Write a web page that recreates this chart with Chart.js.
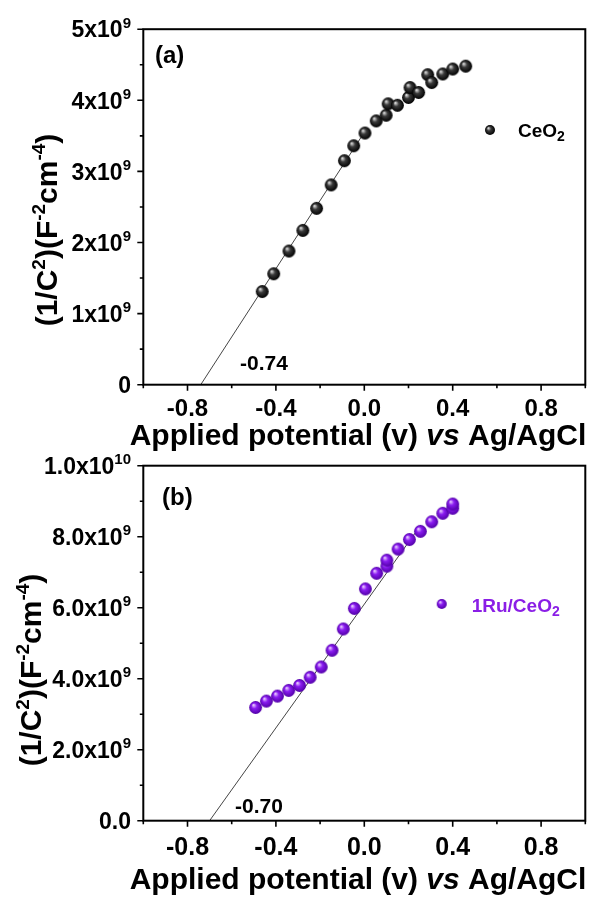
<!DOCTYPE html>
<html><head><meta charset="utf-8">
<script src="https://cdn.jsdelivr.net/npm/chart.js@4.4.1/dist/chart.umd.min.js"></script>
<style>
html,body{margin:0;padding:0;background:#fff;}
#wrap{position:relative;width:598px;height:899px;overflow:hidden;}
.c{position:absolute;left:0;width:598px;}
</style></head><body>
<div id="wrap">
<div class="c" style="top:0;height:468px"><canvas id="ca"></canvas></div>
<div class="c" style="top:440px;height:459px"><canvas id="cb"></canvas></div>
</div>
<script>
// ---- data ----
const ceo2X = [-0.462,-0.410,-0.341,-0.278,-0.216,-0.150,-0.090,-0.048,0.003,0.054,0.099,0.108,0.150,0.200,0.207,0.246,0.287,0.305,0.355,0.400,0.459];
const ceo2Y = [1.31e9,1.56e9,1.88e9,2.17e9,2.48e9,2.81e9,3.15e9,3.36e9,3.54e9,3.71e9,3.79e9,3.95e9,3.93e9,4.04e9,4.18e9,4.11e9,4.36e9,4.25e9,4.37e9,4.44e9,4.48e9];
const ruX = [-0.492,-0.443,-0.393,-0.342,-0.293,-0.245,-0.195,-0.146,-0.095,-0.045,0.005,0.056,0.102,0.102,0.153,0.204,0.254,0.305,0.355,0.400,0.400];
const ruY = [3.19e9,3.37e9,3.51e9,3.67e9,3.81e9,4.04e9,4.33e9,4.80e9,5.40e9,5.98e9,6.53e9,6.97e9,7.17e9,7.34e9,7.65e9,7.92e9,8.15e9,8.42e9,8.66e9,8.80e9,8.92e9];
const fitAX = [-0.74, 0.0];
const fitAY = [0, 3.55e9];
const fitBX = [-0.70, 0.24];
const fitBY = [0, 8.19e9];
const xTicks = [-0.8,-0.4,0.0,0.4,0.8];
const xTickLabels = ["-0.8","-0.4","0.0","0.4","0.8"];
const xMinorTicks = [-1.0,-0.6,-0.2,0.2,0.6,1.0];
const aYTicks = [0,1e9,2e9,3e9,4e9,5e9];
const aYTickLabels = ["0","1x10^9","2x10^9","3x10^9","4x10^9","5x10^9"];
const aYMinor = [0.5e9,1.5e9,2.5e9,3.5e9,4.5e9];
const bYTicks = [0,2e9,4e9,6e9,8e9,1e10];
const bYTickLabels = ["0.0","2.0x10^9","4.0x10^9","6.0x10^9","8.0x10^9","1.0x10^10"];
const bYMinor = [1e9,3e9,5e9,7e9,9e9];
const xTitleParts = [["Applied potential (v) ",false],["vs",true],[" Ag/AgCl",false]];
const yTitleParts = [["(1/C",0],["2",1],[")(F",0],["-2",1],["cm",0],["-4",1],[")",0]];
const legendA = [["CeO",0],["2",-1]];
const legendB = [["1Ru/CeO",0],["2",-1]];

const FONT = '"Liberation Sans", Arial, sans-serif';

function sphere(r, light, mid, dark){
  const s = Math.ceil(2*r+2);
  const c = document.createElement('canvas'); c.width = s; c.height = s;
  const g = c.getContext('2d'); const cx = s/2, cy = s/2;
  const grad = g.createRadialGradient(cx-r*0.35, cy-r*0.4, r*0.05, cx, cy, r);
  grad.addColorStop(0, light); grad.addColorStop(0.4, mid); grad.addColorStop(1, dark);
  g.fillStyle = grad; g.beginPath(); g.arc(cx, cy, r, 0, Math.PI*2); g.fill();
  return c;
}
const blackBall = sphere(6.4, '#e0e0e0', '#3a3a3a', '#000000');
const purpleBall = sphere(6.4, '#eccfff', '#8a1cf0', '#5200a8');
const blackBallS = sphere(5, '#e0e0e0', '#3a3a3a', '#000000');
const purpleBallS = sphere(5, '#eccfff', '#8a1cf0', '#5200a8');

function drawParts(ctx, parts, x, y, size, supSize, raise, color){
  let cx = x;
  for (const [t, kind] of parts){
    ctx.fillStyle = color;
    if (kind === 1){ ctx.font = 'bold '+supSize+'px '+FONT; ctx.fillText(t, cx, y-raise); }
    else if (kind === -1){ ctx.font = 'bold '+supSize+'px '+FONT; ctx.fillText(t, cx, y+raise); }
    else { ctx.font = 'bold '+size+'px '+FONT; ctx.fillText(t, cx, y); }
    cx += ctx.measureText(t).width;
  }
  return cx - x;
}
function measureParts(ctx, parts, size, supSize){
  let w = 0;
  for (const [t, kind] of parts){
    ctx.font = 'bold '+(kind? supSize: size)+'px '+FONT;
    w += ctx.measureText(t).width;
  }
  return w;
}

function makeDecor(cfg){
  return {
    id: 'decor',
    afterDraw(chart){
      const ctx = chart.ctx, a = chart.chartArea, xs = chart.scales.x, ys = chart.scales.y;
      ctx.save();
      ctx.strokeStyle = '#000'; ctx.lineWidth = 2;
      ctx.strokeRect(a.left, a.top, a.right-a.left, a.bottom-a.top);
      ctx.lineWidth = 1.6;
      ctx.beginPath();
      for (const v of xTicks){ const p = xs.getPixelForValue(v); ctx.moveTo(p, a.bottom); ctx.lineTo(p, a.bottom+6); }
      for (const v of xMinorTicks){ const p = xs.getPixelForValue(v); ctx.moveTo(p, a.bottom); ctx.lineTo(p, a.bottom+3.5); }
      for (const v of cfg.yTicks){ const p = ys.getPixelForValue(v); ctx.moveTo(a.left, p); ctx.lineTo(a.left-6, p); }
      for (const v of cfg.yMinor){ const p = ys.getPixelForValue(v); ctx.moveTo(a.left, p); ctx.lineTo(a.left-3.5, p); }
      ctx.stroke();
      ctx.fillStyle = '#000';
      ctx.textBaseline = 'alphabetic'; ctx.textAlign = 'center';
      ctx.font = 'bold '+cfg.xTickSize+'px '+FONT;
      xTicks.forEach((v,i)=>{ ctx.fillText(xTickLabels[i], xs.getPixelForValue(v), a.bottom + cfg.xTickOff); });
      ctx.textAlign = 'left';
      cfg.yTickLabels.forEach((lab,i)=>{
        const [base, sup] = lab.split('^');
        const parts = sup ? [[base,0],[sup,1]] : [[base,0]];
        const w = measureParts(ctx, parts, cfg.yTickSize, cfg.ySupSize);
        const py = ys.getPixelForValue(cfg.yTicks[i]);
        drawParts(ctx, parts, cfg.yTickRight - w, py + cfg.yTickSize*0.36, cfg.yTickSize, cfg.ySupSize, 9.5, '#000');
      });
      let tw = 0;
      for (const [t,it] of xTitleParts){ ctx.font = (it?'italic ':'')+'bold '+cfg.titleSize+'px '+FONT; tw += ctx.measureText(t).width; }
      let tx = cfg.xTitleCenter - tw/2;
      for (const [t,it] of xTitleParts){ ctx.font = (it?'italic ':'')+'bold '+cfg.titleSize+'px '+FONT; ctx.fillText(t, tx, a.bottom + cfg.xTitleOff); tx += ctx.measureText(t).width; }
      ctx.save();
      ctx.translate(cfg.yTitleX, cfg.yTitleY);
      ctx.rotate(-Math.PI/2);
      const yw = measureParts(ctx, yTitleParts, cfg.titleSize, cfg.yTitleSup);
      drawParts(ctx, yTitleParts, -yw/2, 0, cfg.titleSize, cfg.yTitleSup, 12, '#000');
      ctx.restore();
      ctx.font = 'bold '+cfg.panelSize+'px '+FONT;
      ctx.fillText(cfg.panel, cfg.panelX, cfg.panelY);
      ctx.font = 'bold 21px '+FONT;
      ctx.fillText(cfg.intercept, cfg.intX, cfg.intY);
      ctx.drawImage(cfg.legBall, cfg.legMX - cfg.legBall.width/2, cfg.legMY - cfg.legBall.height/2);
      drawParts(ctx, cfg.legText, cfg.legTX, cfg.legTY, 19, 14, 4, cfg.legColor);
      ctx.restore();
    }
  };
}

function pts(xa, ya){ return xa.map((x,i)=>({x:x, y:ya[i]})); }

function makeChart(id, pointsData, ball, fitData, ymax, pad, cfg){
  return new Chart(document.getElementById(id), {
    type: 'scatter',
    data: { datasets: [
      { data: pointsData, pointStyle: ball, pointRadius: 6, order: 0 },
      { data: fitData, showLine: true, borderColor: '#303030', borderWidth: 0.9, pointRadius: 0, order: 1, tension: 0 }
    ]},
    options: {
      responsive: true, maintainAspectRatio: false, animation: false, devicePixelRatio: 1,
      layout: { padding: pad },
      plugins: { legend: { display: false }, tooltip: { enabled: false } },
      scales: {
        x: { type: 'linear', min: -1, max: 1, display: false },
        y: { type: 'linear', min: 0, max: ymax, display: false }
      }
    },
    plugins: [makeDecor(cfg)]
  });
}

makeChart('ca', pts(ceo2X, ceo2Y), blackBall, pts(fitAX, fitAY), 5e9,
  { left: 143.3, right: 12.7, top: 29.2, bottom: 468 - 384.7 },
  { yTicks: aYTicks, yTickLabels: aYTickLabels, yMinor: aYMinor,
    xTickSize: 24, xTickOff: 31, yTickSize: 23, ySupSize: 15, yTickRight: 131,
    titleSize: 30, xTitleOff: 60, xTitleCenter: 358, yTitleX: 57, yTitleY: 230, yTitleSup: 19,
    panel: '(a)', panelSize: 24, panelX: 155, panelY: 63,
    intercept: '-0.74', intX: 240, intY: 370,
    legBall: blackBallS, legMX: 490, legMY: 130, legText: legendA, legTX: 518, legTY: 137, legColor: '#000' });

makeChart('cb', pts(ruX, ruY), purpleBall, pts(fitBX, fitBY), 1e10,
  { left: 143.3, right: 12.7, top: 25.7, bottom: 78.3 },
  { yTicks: bYTicks, yTickLabels: bYTickLabels, yMinor: bYMinor,
    xTickSize: 25, xTickOff: 34, yTickSize: 23, ySupSize: 15, yTickRight: 131,
    titleSize: 30, xTitleOff: 68, xTitleCenter: 358, yTitleX: 41, yTitleY: 230, yTitleSup: 19,
    panel: '(b)', panelSize: 24, panelX: 162, panelY: 65,
    intercept: '-0.70', intX: 235, intY: 372.7,
    legBall: purpleBallS, legMX: 441.7, legMY: 164, legText: legendB, legTX: 471.7, legTY: 171.7, legColor: '#8a1ee6' });
</script>
</body></html>
